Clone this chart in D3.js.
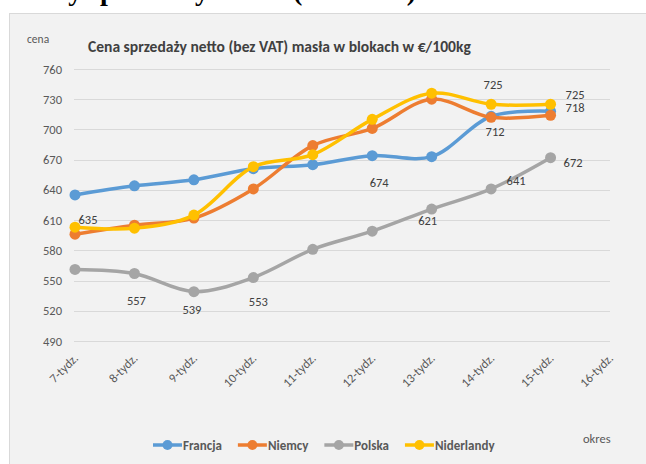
<!DOCTYPE html>
<html>
<head>
    <meta charset="UTF-8">
    <script src="https://d3js.org/d3.v7.min.js"></script>
    <style>
        body { margin: 0; background: #fff; }
        svg { display: block; }
        text { font-family: Carlito, Calibri, Lato, sans-serif; }
    </style>
</head>
<body>
    <svg></svg>
    <script>
        let width = 646, height = 464;

        // data
        let weeks = ["7-tydz.", "8-tydz.", "9-tydz.", "10-tydz.", "11-tydz.", "12-tydz.", "13-tydz.", "14-tydz.", "15-tydz.", "16-tydz."];
        let yTicks = [490, 520, 550, 580, 610, 640, 670, 700, 730, 760];
        let francja = [635, 644, 650, 661, 665, 674, 673, 713, 718];
        let niemcy = [596, 605, 612, 641, 684, 701, 730, 712, 714];
        let polska = [561, 557, 539, 553, 581, 599, 621, 641, 672];
        let niderlandy = [603, 602, 615, 663, 675, 710, 736, 725, 725];
        let seriesNames = ["Francja", "Niemcy", "Polska", "Niderlandy"];
        // which points carry a data label (index into week)
        let francjaLabels = [0, 5, 8];
        let niemcyLabels = [7];
        let polskaLabels = [1, 2, 3, 6, 7, 8];
        let niderlandyLabels = [7, 8];

        let colors = ["#5B9BD5", "#ED7D31", "#A5A5A5", "#FFC000"];

        let svg = d3.select("svg")
            .attr("width", width)
            .attr("height", height)
            .attr("viewBox", "0 0 " + width + " " + height);

        // cropped heading of the page above the chart
        svg.append("text")
            .attr("x", 20).attr("y", 0)
            .style("font-family", "'Liberation Serif', 'DejaVu Serif', serif")
            .style("font-weight", "bold")
            .style("font-size", "28px")
            .attr("fill", "#000")
            .text("Ceny sprzedaży masła (2018 rok)");

        // chart panel
        svg.append("rect")
            .attr("x", 9.5).attr("y", 13.5)
            .attr("width", width).attr("height", height)
            .attr("fill", "#f2f2f2")
            .attr("stroke", "#d9d9d9");

        let x = d3.scalePoint().domain(weeks).range([75, 610]);
        let y = d3.scaleLinear().domain([490, 760]).range([341, 69]);

        // gridlines
        svg.append("g")
            .selectAll("line")
            .data(yTicks)
            .enter()
            .append("line")
            .attr("x1", 74).attr("x2", 610)
            .attr("y1", d => Math.round(y(d)) + 0.5)
            .attr("y2", d => Math.round(y(d)) + 0.5)
            .attr("stroke", "#d9d9d9")
            .attr("stroke-width", 1);

        // y axis labels
        let yAxis = d3.axisLeft(y).tickValues(yTicks).tickSize(0).tickPadding(12);
        let gy = svg.append("g").attr("transform", "translate(74,0)").call(yAxis);
        gy.select(".domain").remove();
        gy.selectAll("text")
            .attr("fill", "#595959")
            .style("font-size", "12.5px")
            .style("font-family", "Carlito, Calibri, Lato, sans-serif");

        // x axis labels
        svg.append("g")
            .selectAll("text")
            .data(weeks)
            .enter()
            .append("text")
            .attr("transform", d => "translate(" + (x(d) + 4) + ",359) rotate(-45)")
            .attr("text-anchor", "end")
            .attr("fill", "#595959")
            .style("font-size", "12.5px")
            .text(d => d);

        // titles
        let title = svg.append("text")
            .attr("x", 88).attr("y", 52)
            .attr("fill", "#404040")
            .style("font-weight", "bold")
            .style("font-size", "12px")
            .text("Cena sprzedaży netto (bez VAT) masła w blokach w €/100kg");
        let tw = title.node().getComputedTextLength();
        title.style("font-size", (12 * 383 / tw).toFixed(2) + "px");

        svg.append("text")
            .attr("x", 27).attr("y", 43)
            .attr("fill", "#595959")
            .style("font-size", "11.5px")
            .text("cena");

        svg.append("text")
            .attr("x", 583).attr("y", 443)
            .attr("fill", "#595959")
            .style("font-size", "12.5px")
            .text("okres");

        // series
        let allSeries = [francja, niemcy, polska, niderlandy];
        let line = d3.line()
            .x((d, i) => x(weeks[i]))
            .y(d => y(d))
            .curve(d3.curveCatmullRom.alpha(0.5));

        allSeries.forEach((values, s) => {
            let g = svg.append("g");
            g.append("path")
                .datum(values)
                .attr("d", line)
                .attr("fill", "none")
                .attr("stroke", colors[s])
                .attr("stroke-width", 3.5)
                .attr("stroke-linejoin", "round");
            g.selectAll("circle")
                .data(values)
                .enter()
                .append("circle")
                .attr("cx", (d, i) => x(weeks[i]))
                .attr("cy", d => y(d))
                .attr("r", 5.5)
                .attr("fill", colors[s]);
        });

        // data labels, offsets relative to the point
        let labelSets = [
            { values: francja, idx: francjaLabels, off: [[13, 29, "middle"], [7, 31, "middle"], [15, 1, "start"]] },
            { values: niemcy, idx: niemcyLabels, off: [[4, 19, "middle"]] },
            { values: polska, idx: polskaLabels, off: [[2, 31, "middle"], [-2, 22, "middle"], [5, 28, "middle"], [-4, 16, "middle"], [25, -4, "middle"], [13, 9, "start"]] },
            { values: niderlandy, idx: niderlandyLabels, off: [[2, -15, "middle"], [15, -5, "start"]] }
        ];
        labelSets.forEach(set => {
            set.idx.forEach((i, k) => {
                let o = set.off[k];
                svg.append("text")
                    .attr("x", x(weeks[i]) + o[0])
                    .attr("y", y(set.values[i]) + o[1])
                    .attr("text-anchor", o[2])
                    .attr("fill", "#404040")
                    .style("font-size", "12.5px")
                    .text(set.values[i]);
            });
        });

        // legend
        let lx = 153;
        seriesNames.forEach((name, s) => {
            let g = svg.append("g").attr("transform", "translate(" + lx + ",445)");
            g.append("line")
                .attr("x1", 0).attr("x2", 29)
                .attr("stroke", colors[s])
                .attr("stroke-width", 3.5);
            g.append("circle")
                .attr("cx", 14.5).attr("r", 5)
                .attr("fill", colors[s]);
            let t = g.append("text")
                .attr("x", 30).attr("y", 4.5)
                .attr("fill", "#595959")
                .style("font-weight", "bold")
                .style("font-size", "13px")
                .text(name);
            lx += 30 + t.node().getComputedTextLength() + 16;
        });
    </script>
</body>
</html>
